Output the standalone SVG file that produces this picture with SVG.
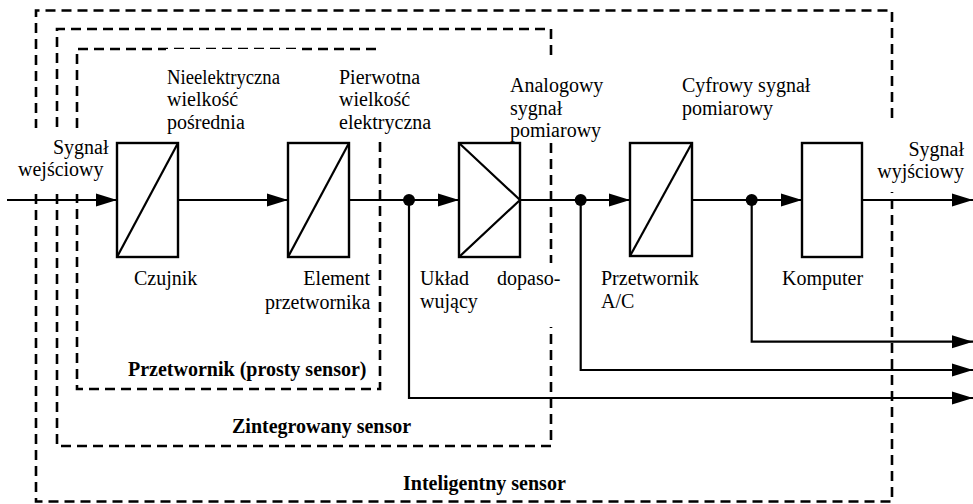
<svg xmlns="http://www.w3.org/2000/svg" width="973" height="504" viewBox="0 0 973 504">
<style>
  text { font-family: "Liberation Serif", "Times New Roman", serif; font-size: 20px; fill: #000; }
  .b { font-weight: bold; }
  .dash { fill: none; stroke: #000; stroke-width: 2.6; stroke-dasharray: 10 6; }
  .box { fill: #fff; stroke: #000; stroke-width: 2.4; }
  .sym { fill: none; stroke: #000; stroke-width: 2.2; }
  .wire { fill: none; stroke: #000; stroke-width: 2.2; }
  .dot { fill: #000; }
</style>
<defs>
  <marker id="arr" markerUnits="userSpaceOnUse" markerWidth="22" markerHeight="14" refX="21" refY="7" orient="auto">
    <path d="M0,0.5 L21,7 L0,13.5 z" fill="#000"/>
  </marker>
</defs>
<rect width="973" height="504" fill="#fff"/>

<g id="boundaries">
  <g id="inteligentny-sensor">
    <path class="dash" d="M892,118 V10.5 H36 V128"/>
    <path class="dash" d="M36,194 V501.5 H892 V192"/>
    <text class="b" x="403" y="490">Inteligentny sensor</text>
  </g>
  <g id="zintegrowany-sensor">
    <path class="dash" d="M551,55 V29 H57 V128"/>
    <path class="dash" d="M57,194 V446 H551 V327"/>
    <path class="dash" d="M551,143 V263"/>
    <text class="b" x="232" y="433">Zintegrowany sensor</text>
  </g>
  <g id="przetwornik-prosty-sensor">
    <path class="dash" d="M77,128 V49 H380"/>
    <path class="dash" d="M380,142 V389 H77 V194"/>
    <rect x="166" y="49" width="134" height="2" fill="#fff"/>
    <text class="b" x="128" y="376">Przetwornik (prosty sensor)</text>
  </g>
</g>

<g id="connectors">
  <line class="wire" x1="7" y1="200" x2="117" y2="200" marker-end="url(#arr)"/>
  <line class="wire" x1="178" y1="200" x2="288" y2="200" marker-end="url(#arr)"/>
  <line class="wire" x1="349" y1="200" x2="459" y2="200" marker-end="url(#arr)"/>
  <line class="wire" x1="520" y1="200" x2="630" y2="200" marker-end="url(#arr)"/>
  <line class="wire" x1="692" y1="200" x2="802" y2="200" marker-end="url(#arr)"/>
  <line class="wire" x1="862" y1="200" x2="973" y2="200" marker-end="url(#arr)"/>
  <path class="wire" d="M409,200 V398 H973" marker-end="url(#arr)"/>
  <path class="wire" d="M580.7,200 V370 H973" marker-end="url(#arr)"/>
  <path class="wire" d="M751.7,200 V341.7 H973" marker-end="url(#arr)"/>
  <circle class="dot" cx="409" cy="200" r="6"/>
  <circle class="dot" cx="580.7" cy="200" r="6"/>
  <circle class="dot" cx="751.7" cy="200" r="6"/>
</g>

<g id="czujnik">
  <rect class="box" x="117" y="143" width="61" height="114"/>
  <line class="sym" x1="117" y1="257" x2="178" y2="143"/>
  <text x="134" y="285">Czujnik</text>
</g>

<g id="element-przetwornika">
  <rect class="box" x="288" y="143" width="61" height="114"/>
  <line class="sym" x1="288" y1="257" x2="349" y2="143"/>
  <text x="370" y="285" text-anchor="end">Element</text>
  <text x="370.5" y="309" text-anchor="end">przetwornika</text>
</g>

<g id="uklad-dopasowujacy">
  <rect class="box" x="459" y="143" width="61" height="114"/>
  <polyline class="sym" points="459,143 520,200 459,257"/>
  <text x="420" y="285">Układ</text>
  <text x="497" y="285">dopaso-</text>
  <text x="420" y="308">wujący</text>
</g>

<g id="przetwornik-ac">
  <rect class="box" x="630" y="143" width="62" height="113"/>
  <line class="sym" x1="630" y1="256" x2="692" y2="143"/>
  <text x="601" y="285">Przetwornik</text>
  <text x="601" y="308">A/C</text>
</g>

<g id="komputer">
  <rect class="box" x="802" y="143" width="60" height="114"/>
  <text x="782" y="285">Komputer</text>
</g>

<g id="labels">
  <text x="53" y="154">Sygnał</text>
  <text x="18" y="176">wejściowy</text>
  <text x="167" y="84" textLength="113" lengthAdjust="spacingAndGlyphs">Nieelektryczna</text>
  <text x="167" y="106">wielkość</text>
  <text x="167" y="129">pośrednia</text>
  <text x="339" y="84">Pierwotna</text>
  <text x="339" y="106">wielkość</text>
  <text x="339" y="129">elektryczna</text>
  <text x="510" y="92">Analogowy</text>
  <text x="510" y="115">sygnał</text>
  <text x="510" y="137">pomiarowy</text>
  <text x="682" y="92">Cyfrowy sygnał</text>
  <text x="682" y="115">pomiarowy</text>
  <text x="964" y="156" text-anchor="end">Sygnał</text>
  <text x="964" y="178" text-anchor="end">wyjściowy</text>
</g>
</svg>
